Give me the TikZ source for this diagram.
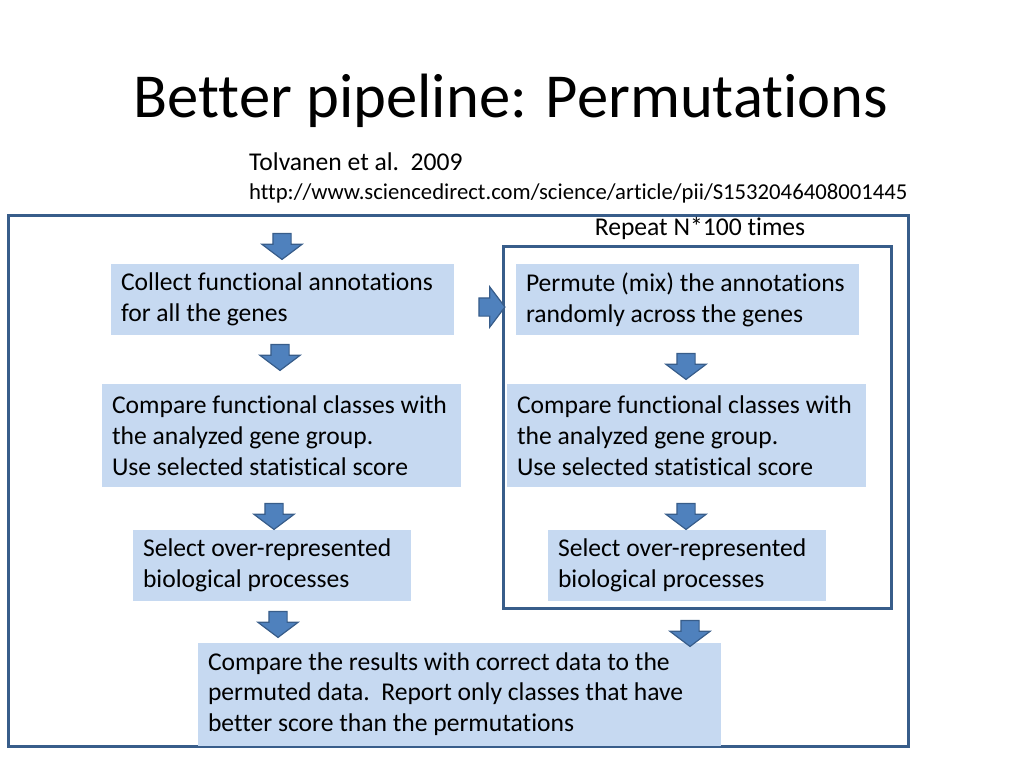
\documentclass[tikz,border=0pt]{standalone}
\usepackage{fontspec}
\setmainfont{Carlito}[Ligatures={NoCommon,NoContextual}]
\usetikzlibrary{shapes.arrows}

\definecolor{boxblue}{HTML}{C6D9F1}
\definecolor{arrowblue}{HTML}{4F81BD}
\definecolor{edgeblue}{HTML}{385D8A}

\tikzset{
  infobox/.style={fill=boxblue, inner xsep=10pt, inner ysep=0pt, align=flush left,
    font=\fontsize{25.6}{30.7}\selectfont},
  downarr/.style={single arrow, shape border rotate=270, fill=arrowblue,
    draw=edgeblue, line width=1.2pt, inner sep=8.5pt, minimum height=26pt,
    single arrow head extend=11pt, single arrow tip angle=106},
  rightarr/.style={downarr, shape border rotate=0},
}

\begin{document}
\begin{tikzpicture}[x=1pt,y=-1pt]
          \useasboundingbox (0,0) rectangle (1024,768);
          % title and reference
          \node[anchor=base, font=\fontsize{62.6}{75}\selectfont] (title) at (511,117) {Better pipeline: Permutations};
          \node[anchor=base west, inner sep=0pt, font=\fontsize{25.6}{30}\selectfont] (ref) at (249,170) {Tolvanen et al.\ \ 2009};
          \node[anchor=base west, inner sep=0pt, font=\fontsize{22.7}{27}\selectfont] (url) at (249,199) {http://www.sciencedirect.com/science/article/pii/S1532046408001445};
          % frames
          \draw[edgeblue, line width=3pt] (8,215) rectangle (908,746);
          \draw[edgeblue, line width=3pt] (503,246) rectangle (891,608);
          \node[anchor=base, inner sep=0pt, font=\fontsize{25.6}{30}\selectfont] (repeat) at (700,235) {Repeat N*100 times};
          % left column
          \node[infobox, text width=323pt, minimum height=71pt] (collect) at (282.5,299.5)
            {Collect functional annotations\\for all the genes};
          \node[infobox, text width=339pt, minimum height=103pt] (compare) at (281.5,435.5)
            {Compare functional classes with\\the analyzed gene group.\\Use selected statistical score};
          \node[infobox, text width=258pt, minimum height=71pt] (select) at (272,565.5)
            {Select over-represented\\biological processes};
          % right column
          \node[infobox, text width=323pt, minimum height=71pt] (permute) at (687.5,299.5)
            {Permute (mix) the annotations\\randomly across the genes};
          \node[infobox, text width=339pt, minimum height=103pt] (pcompare) at (686.5,435.5)
            {Compare functional classes with\\the analyzed gene group.\\Use selected statistical score};
          \node[infobox, text width=258pt, minimum height=71pt] (pselect) at (687,565.5)
            {Select over-represented\\biological processes};
          % final step
          \node[infobox, text width=503pt, minimum height=103pt] (final) at (459.5,694)
            {Compare the results with correct data to the\\permuted data.\ \ Report only classes that have\\better score than the permutations};
          % block arrows
          \node[downarr] (a1) at (282,243) {};
          \node[downarr] (a2) at (280,354) {};
          \node[downarr] (a3) at (274,513) {};
          \node[downarr] (a4) at (278,621) {};
          \node[rightarr] (a5) at (488.5,307) {};
          \node[downarr] (a6) at (686,363) {};
          \node[downarr] (a7) at (686,513) {};
          \node[downarr] (a8) at (690,630) {};
        \end{tikzpicture}
\end{document}
